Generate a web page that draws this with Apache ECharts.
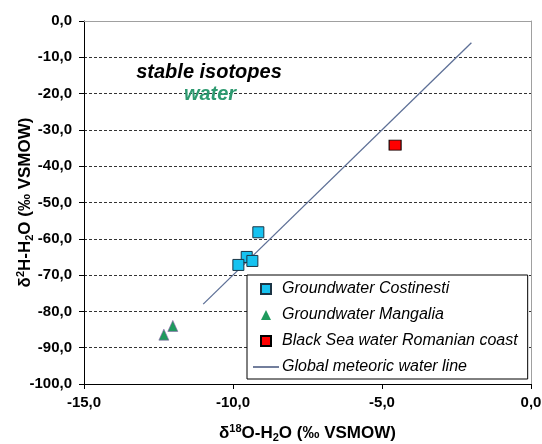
<!DOCTYPE html>
<html>
<head>
<meta charset="utf-8">
<script src="https://cdn.jsdelivr.net/npm/echarts@6/dist/echarts.min.js"></script>
<style>html,body{margin:0;padding:0;background:#fff}#c{width:542px;height:444px}</style>
</head>
<body>
<div id="c"></div>
<script>
// Data (δ18O, δ2H)
const costinestiX = [-9.15, -9.54, -9.82, -9.35];
const costinestiY = [-58.2, -65.0, -67.2, -66.1];
const mangaliaX = [-12.32, -12.02];
const mangaliaY = [-86.4, -84.0];
const blackSeaX = [-4.56];
const blackSeaY = [-34.2];
const gmwlX = [-11.0, -2.0];
const gmwlY = [-78.0, -6.0];
const seriesNames = ['Groundwater Costinesti', 'Groundwater Mangalia', 'Black Sea water Romanian coast', 'Global meteoric water line'];
const xRange = [-15, 0], xStep = 5;
const yRange = [-100, 0], yStep = 10;

function pairs(xs, ys) { return xs.map((x, i) => [x, ys[i]]); }
function fmt(v) { const s = Math.abs(v) < 1e-9 ? 0 : v; return s.toFixed(1).replace('.', ','); }

const chart = echarts.init(document.getElementById('c'));
const FONT = '"Liberation Sans", Arial, sans-serif';
const sqPath = 'path://M0,0 L10,0 L10,10 L0,10 Z';
const linePath = 'path://M0,0 L26,0 L26,1.2 L0,1.2 Z';

const richName = {
  n: { fontSize: 17, fontWeight: 'bold', fontFamily: FONT, color: '#000', lineHeight: 20 },
  sup: { fontSize: 11, fontWeight: 'bold', fontFamily: FONT, color: '#000', verticalAlign: 'top', lineHeight: 20, padding: [0, 0, 6, 0] },
  sub: { fontSize: 11, fontWeight: 'bold', fontFamily: FONT, color: '#000', verticalAlign: 'bottom', lineHeight: 20, padding: [6, 0, 0, 0] }
};

chart.setOption({
  animation: false,
  backgroundColor: '#fff',
  textStyle: { fontFamily: FONT },
  grid: { left: 84, right: 11, top: 21, bottom: 60, outerBoundsMode: 'none', containLabel: false },
  xAxis: [{
    type: 'value', min: xRange[0], max: xRange[1], interval: xStep,
    axisLine: { onZero: false, lineStyle: { color: '#000', width: 1 } },
    axisTick: { show: true, length: 5, lineStyle: { color: '#000' } },
    axisLabel: { formatter: fmt, color: '#000', fontSize: 15, fontWeight: 'bold', fontFamily: FONT, margin: 11 },
    splitLine: { show: false },
    name: '{n|δ}{sup|18}{n|O-H}{sub|2}{n|O (‰ VSMOW)}',
    nameLocation: 'middle', nameGap: 39, nameMoveOverlap: false,
    nameTextStyle: { color: '#000', fontFamily: FONT, fontWeight: 'bold', fontSize: 17, rich: richName }
  }, {
    type: 'value', min: xRange[0], max: xRange[1], position: 'top',
    axisLine: { onZero: false, lineStyle: { color: '#a0a0a0', width: 1 } },
    axisTick: { show: false }, axisLabel: { show: false }, splitLine: { show: false }
  }],
  yAxis: [{
    type: 'value', min: yRange[0], max: yRange[1], interval: yStep,
    axisLine: { show: true, onZero: false, lineStyle: { color: '#000', width: 1 } },
    axisTick: { show: true, length: 5, lineStyle: { color: '#000' } },
    axisLabel: { formatter: fmt, color: '#000', fontSize: 15, fontWeight: 'bold', fontFamily: FONT, margin: 12 },
    splitLine: { show: true, lineStyle: { color: '#333', type: [3, 2], width: 1 } },
    name: '{n|δ}{sup|2}{n|H-H}{sub|2}{n|O (‰ VSMOW)}',
    nameLocation: 'middle', nameGap: 49, nameRotate: 90, nameMoveOverlap: false,
    nameTextStyle: { color: '#000', fontFamily: FONT, fontWeight: 'bold', fontSize: 17, rich: richName }
  }, {
    type: 'value', min: yRange[0], max: yRange[1], position: 'right',
    axisLine: { show: true, onZero: false, lineStyle: { color: '#a0a0a0', width: 1 } },
    axisTick: { show: false }, axisLabel: { show: false }, splitLine: { show: false }
  }],
  legend: {
    orient: 'vertical', left: 247, top: 275,
    padding: [5, 10, 3, 6],
    itemGap: 8, itemWidth: 26, itemHeight: 10,
    backgroundColor: '#fff', borderColor: '#000', borderWidth: 1, borderRadius: 0,
    textStyle: { fontSize: 16, fontStyle: 'italic', color: '#000', fontFamily: FONT, lineHeight: 18, padding: [0, 0, 0, -2] },
    data: [
      { name: seriesNames[0], icon: sqPath },
      { name: seriesNames[1], icon: 'path://M5,1 L9,9 L1,9 Z', itemStyle: { color: '#1f9a5e', borderWidth: 0 } },
      { name: seriesNames[2], icon: sqPath },
      { name: seriesNames[3], icon: linePath, itemStyle: { color: '#15285a', borderWidth: 0 } }
    ]
  },
  graphic: [
    { type: 'text', x: 209, y: 72, z: 100,
      style: { text: 'stable isotopes', font: 'italic bold 20px ' + FONT, fill: '#000', align: 'center', verticalAlign: 'middle' } },
    { type: 'text', x: 210, y: 94, z: 100,
      style: { text: 'water', font: 'italic bold 20px ' + FONT, fill: '#2e9a70', align: 'center', verticalAlign: 'middle' } }
  ],
  series: [
    { name: seriesNames[0], type: 'scatter', data: pairs(costinestiX, costinestiY), symbol: 'rect', symbolSize: 11,
      itemStyle: { color: '#16c2f0', borderColor: '#1b3444', borderWidth: 1, opacity: 1 }, z: 5 },
    { name: seriesNames[1], type: 'scatter', data: pairs(mangaliaX, mangaliaY), symbol: 'triangle', symbolSize: [10, 11],
      itemStyle: { color: '#1f9a5e', borderColor: '#8a5aa8', borderWidth: 0.6, opacity: 1 }, z: 5 },
    { name: seriesNames[2], type: 'scatter', data: pairs(blackSeaX, blackSeaY), symbol: 'rect', symbolSize: [12, 10],
      itemStyle: { color: '#ff0000', borderColor: '#000', borderWidth: 1, opacity: 1 }, z: 5 },
    { name: seriesNames[3], type: 'line', data: pairs(gmwlX, gmwlY), symbol: 'none', showSymbol: false,
      lineStyle: { color: '#5d6f96', width: 1.3 }, itemStyle: { color: '#15285a' }, z: 3 }
  ]
});
</script>
</body>
</html>
